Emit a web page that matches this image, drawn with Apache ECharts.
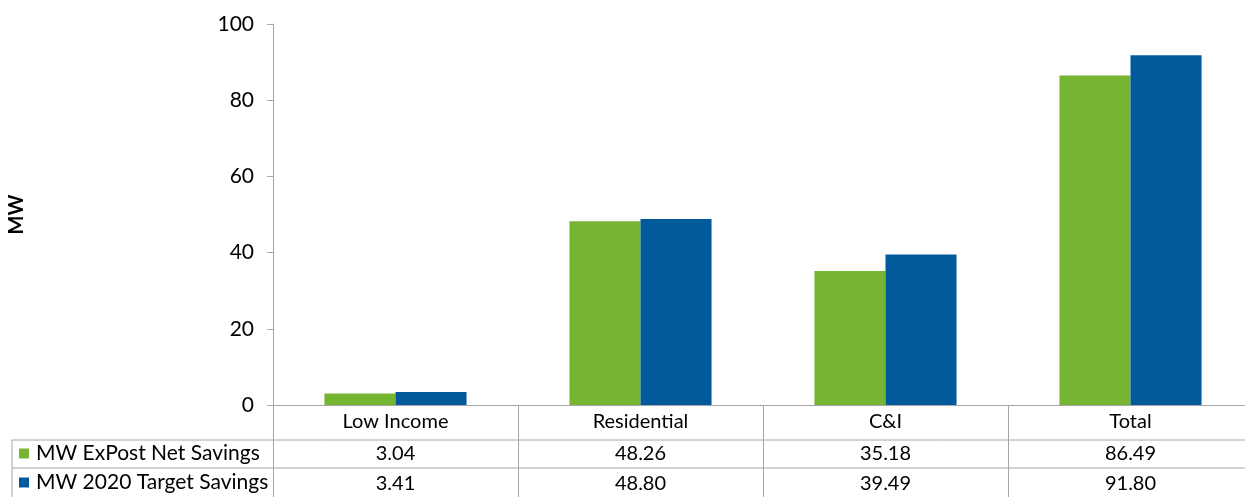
<!DOCTYPE html>
<html>
<head>
<meta charset="UTF-8"/>
<title>MW savings</title>
<script src="https://cdn.jsdelivr.net/npm/echarts@6/dist/echarts.min.js"></script>
<style>
html, body { margin:0; padding:0; background:#fff; }
#chart { width:1245px; height:497px; }
</style>
</head>
<body>
<div id="chart"></div>
<script>
var categories = ['Low Income', 'Residential', 'C&I', 'Total'];
var exPostNet = [3.04, 48.26, 35.18, 86.49];
var target2020 = [3.41, 48.80, 39.49, 91.80];
var seriesNames = ['MW ExPost Net Savings', 'MW 2020 Target Savings'];

var FONT = 'Lato';
var GRID_LEFT = 273, GRID_TOP = 24, GRID_BOTTOM = 92;
var lineCol = '#a6a6a6';

var chart = echarts.init(document.getElementById('chart'));

// one legend per table row, so each sits in its own cell
function rowLegend(name, top) {
  return {
    orient: 'horizontal',
    left: 19,
    top: top,
    padding: 0,
    itemWidth: 10,
    itemHeight: 10,
    itemGap: 0,
    icon: 'rect',
    selectedMode: false,
    textStyle: { fontFamily: FONT, fontSize: 21, color: '#000', padding: [0, 0, 0, 2] },
    data: [name]
  };
}

var option = {
  animation: false,
  textStyle: { fontFamily: FONT, color: '#000' },
  color: ['#76b531', '#005a9b'],
  legend: [rowLegend(seriesNames[0], 443), rowLegend(seriesNames[1], 472)],
  // plot runs a little past the right edge of the picture, as in the original
  grid: { left: GRID_LEFT, width: 980, top: GRID_TOP, bottom: GRID_BOTTOM, outerBoundsMode: 'none' },
  xAxis: {
    type: 'category',
    data: categories,
    axisLine: { lineStyle: { color: lineCol, width: 1 } },
    axisTick: { show: true, length: 92, lineStyle: { color: lineCol } },
    axisLabel: {
      margin: 0,
      interval: 0,
      formatter: function (v, i) {
        return '{c|' + v + '}\n{v|' + exPostNet[i].toFixed(2) + '}\n{v|' + target2020[i].toFixed(2) + '}';
      },
      rich: {
        c: { fontFamily: FONT, fontSize: 20, lineHeight: 34, color: '#000' },
        v: { fontFamily: FONT, fontSize: 20, lineHeight: 30, color: '#000' }
      }
    }
  },
  yAxis: {
    type: 'value',
    min: 0,
    max: 100,
    interval: 20,
    name: 'MW',
    nameLocation: 'middle',
    nameRotate: 90,
    nameGap: 246,
    nameTextStyle: { fontFamily: FONT, fontSize: 20, fontWeight: 'bold', color: '#000' },
    axisLine: { show: true, lineStyle: { color: lineCol } },
    axisTick: { show: true, length: 6, lineStyle: { color: lineCol } },
    axisLabel: { margin: 19, fontFamily: FONT, fontSize: 21, color: '#000' },
    splitLine: { show: false }
  },
  series: [
    { name: seriesNames[0], type: 'bar', data: exPostNet, barGap: '0%', barCategoryGap: '42%' },
    { name: seriesNames[1], type: 'bar', data: target2020, barGap: '0%', barCategoryGap: '42%' }
  ],
  graphic: [
    // data table borders
    { type: 'line', shape: { x1: 12, y1: 440, x2: 1245, y2: 440 }, style: { stroke: lineCol, lineWidth: 1 } },
    { type: 'line', shape: { x1: 12, y1: 468, x2: 1245, y2: 468 }, style: { stroke: lineCol, lineWidth: 1 } },
    { type: 'line', shape: { x1: 12, y1: 440, x2: 12, y2: 497 }, style: { stroke: lineCol, lineWidth: 1 } }
  ]
};

chart.setOption(option);
</script>
</body>
</html>
